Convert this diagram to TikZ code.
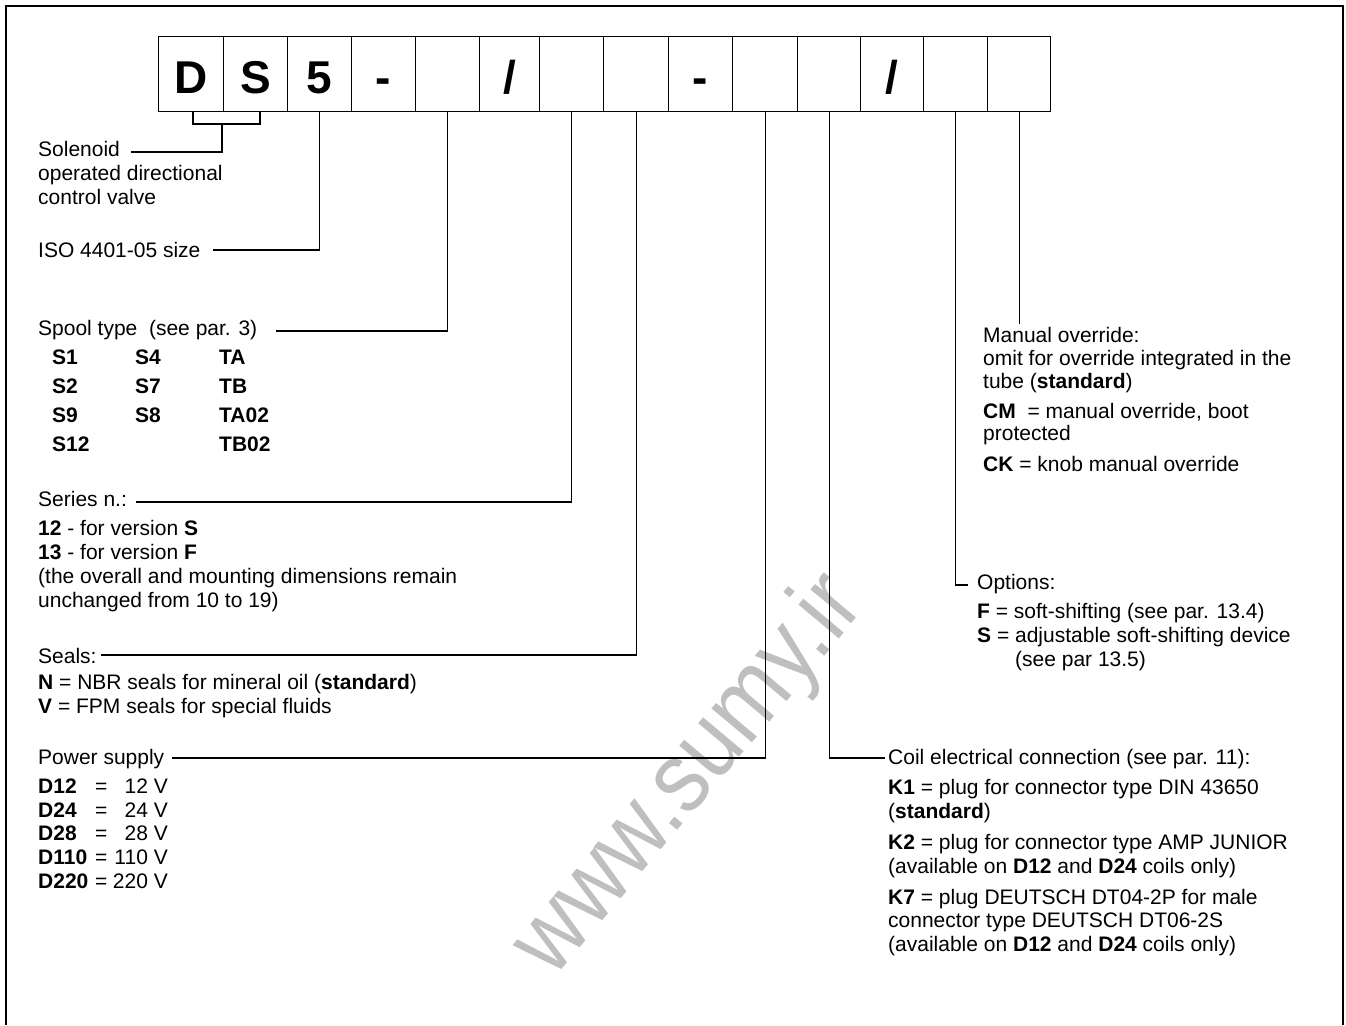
\documentclass[tikz,border=0pt]{standalone}
\usepackage{fontspec}
\setmainfont{Liberation Sans}
\begin{document}
\begin{tikzpicture}[x=1pt,y=-1pt,
  txt/.style={anchor=base west,inner sep=0pt,font=\fontsize{21}{24}\selectfont},
  txtr/.style={anchor=base east,inner sep=0pt,font=\fontsize{21}{24}\selectfont},
  cell/.style={draw,line width=1.2pt,anchor=north west,inner sep=0pt,minimum height=75pt,
    text height=57pt,text depth=18pt,font=\fontsize{46}{46}\selectfont\bfseries},
  ln/.style={line width=1.2pt},
  wmark/.style={anchor=center,inner sep=0pt,text=black!25,font=\fontsize{100}{100}\selectfont}]
\useasboundingbox (0,0) rectangle (1346,1025);

% watermark (behind)
\node[wmark,transform shape,rotate=50,xscale=0.88] (wm) at (690,776) {www.sumy.ir};

% outer frame
\draw[ln] (6,1025) -- (6,6) -- (1343,6) -- (1343,1025);

% code cells
\node[cell,minimum width=65pt] (c1) at (158,36) {D};
\node[cell,minimum width=64pt] (c2) at (223,36) {S};
\node[cell,minimum width=64pt] (c3) at (287,36) {5};
\node[cell,minimum width=64pt] (c4) at (351,36) {-};
\node[cell,minimum width=64pt] (c5) at (415,36) {};
\node[cell,minimum width=60pt] (c6) at (479,36) {/};
\node[cell,minimum width=64pt] (c7) at (539,36) {};
\node[cell,minimum width=65pt] (c8) at (603,36) {};
\node[cell,minimum width=64pt] (c9) at (668,36) {-};
\node[cell,minimum width=65pt] (c10) at (732,36) {};
\node[cell,minimum width=63pt] (c11) at (797,36) {};
\node[cell,minimum width=63pt] (c12) at (860,36) {/};
\node[cell,minimum width=64pt] (c13) at (923,36) {};
\node[cell,minimum width=63pt] (c14) at (987,36) {};

% left column texts
\node[txt] (sol1) at (38,156) {Solenoid};
\node[txt] (sol2) at (38,180) {operated directional};
\node[txt] (sol3) at (38,204) {control valve};
\node[txt] (iso) at (38,257) {ISO 4401-05 size};
\node[txt] (spool) at (38,335) {Spool type\ \ (see par. 3)};
\node[txt] (sa1) at (52,364) {\textbf{S1}};
\node[txt] (sb1) at (135,364) {\textbf{S4}};
\node[txt] (sc1) at (219,364) {\textbf{TA}};
\node[txt] (sa2) at (52,393) {\textbf{S2}};
\node[txt] (sb2) at (135,393) {\textbf{S7}};
\node[txt] (sc2) at (219,393) {\textbf{TB}};
\node[txt] (sa3) at (52,422) {\textbf{S9}};
\node[txt] (sb3) at (135,422) {\textbf{S8}};
\node[txt] (sc3) at (219,422) {\textbf{TA02}};
\node[txt] (sa4) at (52,451) {\textbf{S12}};
\node[txt] (sc4) at (219,451) {\textbf{TB02}};
\node[txt] (ser) at (38,506) {Series n.:};
\node[txt] (ser1) at (38,535) {\textbf{12} - for version \textbf{S}};
\node[txt] (ser2) at (38,559) {\textbf{13} - for version \textbf{F}};
\node[txt] (ser3) at (38,583) {(the overall and mounting dimensions remain};
\node[txt] (ser4) at (38,607) {unchanged from 10 to 19)};
\node[txt] (seal) at (38,663) {Seals:};
\node[txt] (seal1) at (38,689) {\textbf{N} = NBR seals for mineral oil (\textbf{standard})};
\node[txt] (seal2) at (38,713) {\textbf{V} = FPM seals for special fluids};
\node[txt] (pow) at (38,764) {Power supply};
\node[txt] (pa1) at (38,793) {\textbf{D12}};
\node[txt] (pb1) at (95,793) {=};
\node[txtr] (pc1) at (168,793) {12 V};
\node[txt] (pa2) at (38,817) {\textbf{D24}};
\node[txt] (pb2) at (95,817) {=};
\node[txtr] (pc2) at (168,817) {24 V};
\node[txt] (pa3) at (38,840) {\textbf{D28}};
\node[txt] (pb3) at (95,840) {=};
\node[txtr] (pc3) at (168,840) {28 V};
\node[txt] (pa4) at (38,864) {\textbf{D110}};
\node[txt] (pb4) at (95,864) {=};
\node[txtr] (pc4) at (168,864) {110 V};
\node[txt] (pa5) at (38,888) {\textbf{D220}};
\node[txt] (pb5) at (95,888) {=};
\node[txtr] (pc5) at (168,888) {220 V};

% right column texts
\node[txt] (man) at (983,342) {Manual override:};
\node[txt] (man1) at (983,365) {omit for override integrated in the};
\node[txt] (man2) at (983,388) {tube (\textbf{standard})};
\node[txt] (man3) at (983,418) {\textbf{CM}\ \ = manual override, boot};
\node[txt] (man4) at (983,440) {protected};
\node[txt] (man5) at (983,471) {\textbf{CK} = knob manual override};
\node[txt] (opt) at (977,589) {Options:};
\node[txt] (opt1) at (977,618) {\textbf{F} = soft-shifting (see par. 13.4)};
\node[txt] (opt2) at (977,642) {\textbf{S} = adjustable soft-shifting device};
\node[txt] (opt3) at (1015,666) {(see par 13.5)};
\node[txt] (coil) at (888,764) {Coil electrical connection (see par. 11):};
\node[txt] (coil1) at (888,794) {\textbf{K1} = plug for connector type DIN 43650};
\node[txt] (coil2) at (888,818) {(\textbf{standard})};
\node[txt] (coil3) at (888,849) {\textbf{K2} = plug for connector type AMP JUNIOR};
\node[txt] (coil4) at (888,873) {(available on \textbf{D12} and \textbf{D24} coils only)};
\node[txt] (coil5) at (888,904) {\textbf{K7} = plug DEUTSCH DT04-2P for male};
\node[txt] (coil6) at (888,927) {connector type DEUTSCH DT06-2S};
\node[txt] (coil7) at (888,951) {(available on \textbf{D12} and \textbf{D24} coils only)};

% connector end points
\coordinate (brA) at (193,111);
\coordinate (brB) at (260,111);
\coordinate (brM) at (222,124);
\coordinate (solEnd) at (131,152);
\coordinate (isoEnd) at (213,250);
\coordinate (spoolEnd) at (276,331);
\coordinate (serEnd) at (136,502);
\coordinate (sealEnd) at (101,655);
\coordinate (powEnd) at (172,758);
\coordinate (coilEnd) at (885,758);
\coordinate (optEnd) at (968,585);
\path (c14.south) ++(0,212) coordinate (manEnd);

% connectors
\draw[ln] (brA) -- ++(0,13) -| (brB);
\draw[ln] (brM) |- (solEnd);
\draw[ln] (c3.south) |- (isoEnd);
\draw[ln] (c5.south) |- (spoolEnd);
\draw[ln] (c7.south) |- (serEnd);
\draw[ln] (c8.south) |- (sealEnd);
\draw[ln] (c10.south) |- (powEnd);
\draw[ln] (c11.south) |- (coilEnd);
\draw[ln] (c13.south) |- (optEnd);
\draw[ln] (c14.south) -- (manEnd);
\end{tikzpicture}
\end{document}
